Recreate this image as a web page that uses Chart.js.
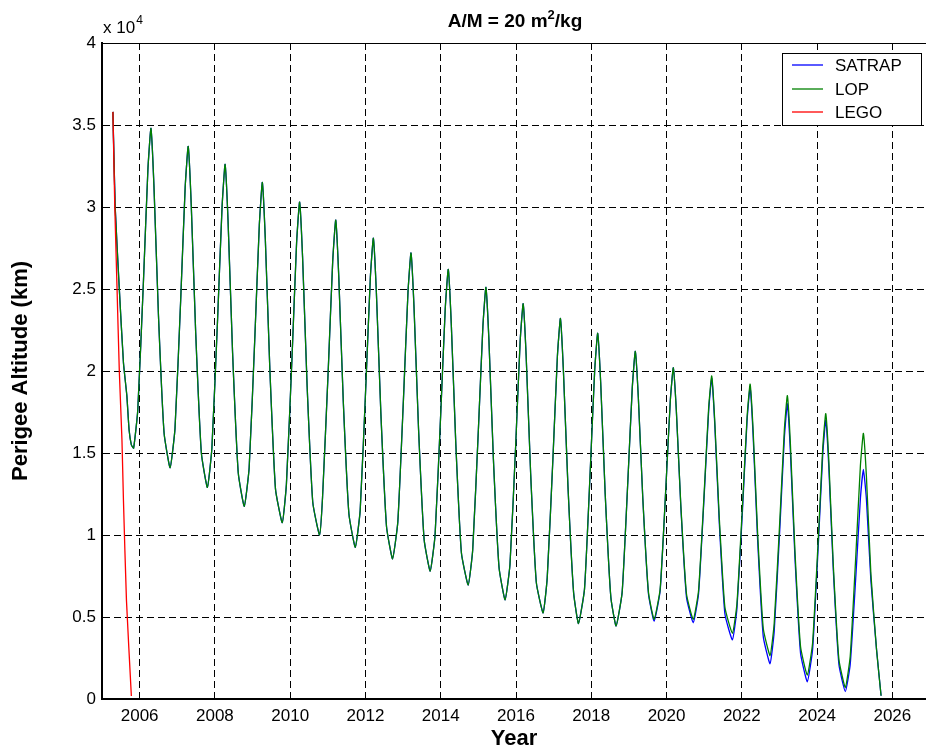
<!DOCTYPE html>
<html>
<head>
<meta charset="utf-8">
<script src="https://cdn.jsdelivr.net/npm/chart.js"></script>
<style>
  html, body { margin: 0; padding: 0; background: #fff; overflow: hidden; }
  canvas { display: block; }
</style>
</head>
<body>
<canvas id="c" width="930" height="751"></canvas>
<script>
// sample times (year) shared by SATRAP and LOP
const years = [
  2005.29, 2005.35, 2005.46, 2005.57, 2005.66, 2005.72, 2005.78, 2005.84,
  2005.95, 2006.10, 2006.22, 2006.30,
  2006.38, 2006.50, 2006.65, 2006.81, 2006.94, 2007.09, 2007.21, 2007.29,
  2007.37, 2007.49, 2007.64, 2007.80, 2007.92, 2008.07, 2008.19, 2008.27,
  2008.35, 2008.47, 2008.62, 2008.78, 2008.91, 2009.06, 2009.18, 2009.26,
  2009.34, 2009.46, 2009.61, 2009.79, 2009.90, 2010.05, 2010.17, 2010.25,
  2010.33, 2010.45, 2010.60, 2010.78, 2010.86, 2011.01, 2011.13, 2011.21,
  2011.29, 2011.41, 2011.56, 2011.73, 2011.86, 2012.01, 2012.13, 2012.21,
  2012.29, 2012.41, 2012.56, 2012.72, 2012.86, 2013.01, 2013.13, 2013.21,
  2013.29, 2013.41, 2013.56, 2013.72, 2013.85, 2014.00, 2014.12, 2014.20,
  2014.28, 2014.40, 2014.55, 2014.73, 2014.85, 2015.00, 2015.12, 2015.20,
  2015.28, 2015.40, 2015.55, 2015.71, 2015.84, 2015.99, 2016.11, 2016.19,
  2016.27, 2016.39, 2016.54, 2016.72, 2016.83, 2016.98, 2017.10, 2017.18,
  2017.26, 2017.38, 2017.53, 2017.66, 2017.82, 2017.97, 2018.09, 2018.17,
  2018.25, 2018.37, 2018.52, 2018.66, 2018.82, 2018.97, 2019.09, 2019.17,
  2019.25, 2019.37, 2019.52, 2019.67, 2019.83, 2019.98, 2020.10, 2020.18,
  2020.26, 2020.38, 2020.53, 2020.71, 2020.85, 2021.00, 2021.12, 2021.20,
  2021.28, 2021.40, 2021.55, 2021.75, 2021.87, 2022.02, 2022.14, 2022.22,
  2022.30, 2022.42, 2022.57, 2022.75, 2022.86, 2023.01, 2023.13, 2023.21,
  2023.29, 2023.41, 2023.56, 2023.74, 2023.88, 2024.03, 2024.15, 2024.23,
  2024.31, 2024.43, 2024.58, 2024.75, 2024.88, 2025.03, 2025.15, 2025.23,
  2025.31, 2025.43, 2025.58, 2025.70
];

// perigee altitude, km
const satrap = [
  35800, 30000, 25000, 20500, 18500, 16400, 15500, 15300,
  17600, 25400, 32300, 34800,
  31300, 23400, 16200, 14100, 16500, 24300, 31200, 33700,
  30200, 22300, 15000, 12900, 15300, 23100, 30000, 32600,
  29100, 21100, 13800, 11750, 14100, 22000, 28900, 31500,
  28000, 20100, 12800, 10750, 13100, 20900, 27800, 30300,
  26900, 19100, 12000, 10000, 12300, 20000, 26700, 29200,
  25800, 18200, 11300, 9250, 11500, 19100, 25700, 28100,
  24800, 17400, 10500, 8550, 10800, 18300, 24800, 27200,
  23900, 16500, 9700, 7800, 10000, 17400, 23800, 26200,
  22900, 15600, 8900, 6950, 9100, 16400, 22700, 25100,
  21900, 14600, 8000, 6050, 8200, 15400, 21800, 24100,
  20900, 13700, 7100, 5250, 7400, 14600, 20900, 23200,
  20000, 13000, 6500, 4600, 6700, 13800, 20000, 22300,
  19300, 12500, 6200, 4450, 6500, 13200, 19000, 21200,
  18400, 12200, 6400, 4750, 6600, 12800, 18200, 20200,
  17600, 11700, 6200, 4650, 6400, 12400, 17600, 19550,
  16800, 10800, 5200, 3600, 5500, 11600, 17000, 19000,
  16100, 9700, 3800, 2150, 4100, 10400, 15900, 18000,
  15100, 8700, 2800, 1050, 3000, 9300, 14900, 17000,
  14200, 7900, 2100, 450, 2100, 7500, 12200, 14000,
  12200, 7200, 3000, 200
];

const lop = [
  35800, 30000, 25000, 20500, 18500, 16400, 15500, 15300,
  17600, 25400, 32300, 34800,
  31300, 23400, 16200, 14100, 16500, 24300, 31200, 33700,
  30200, 22300, 15000, 12900, 15300, 23100, 30000, 32600,
  29100, 21100, 13800, 11750, 14100, 22000, 28900, 31500,
  28000, 20100, 12800, 10750, 13100, 20900, 27800, 30300,
  26900, 19100, 12000, 10000, 12300, 20000, 26700, 29200,
  25800, 18200, 11300, 9250, 11500, 19100, 25700, 28100,
  24800, 17400, 10500, 8550, 10800, 18300, 24800, 27200,
  23900, 16500, 9700, 7800, 10000, 17400, 23800, 26200,
  22900, 15600, 8900, 6950, 9100, 16400, 22700, 25100,
  21900, 14600, 8000, 6050, 8200, 15400, 21800, 24100,
  20900, 13700, 7100, 5250, 7400, 14600, 20900, 23200,
  20000, 13000, 6500, 4600, 6700, 13800, 20000, 22300,
  19300, 12500, 6200, 4450, 6500, 13200, 19000, 21200,
  18400, 12200, 6500, 4850, 6700, 12800, 18200, 20200,
  17600, 11800, 6400, 4850, 6600, 12600, 17800, 19700,
  17000, 11100, 5600, 4000, 5800, 11900, 17200, 19200,
  16400, 10100, 4300, 2650, 4600, 10900, 16400, 18500,
  15600, 9100, 3200, 1450, 3400, 9700, 15300, 17400,
  14600, 8200, 2400, 700, 2600, 8800, 14200, 16200,
  13600, 7600, 3000, 200
];

const legoYears = [2005.29, 2005.34, 2005.40, 2005.46, 2005.53, 2005.57, 2005.65, 2005.78];
const lego = [35800, 30000, 25000, 20000, 15800, 12100, 6000, 180];

const yearTicks = [2006, 2008, 2010, 2012, 2014, 2016, 2018, 2020, 2022, 2024, 2026];

const FONT = "'Liberation Sans', Arial, Helvetica, sans-serif";

const pts = (xs, ys) => xs.map((x, i) => ({ x, y: ys[i] }));

// MATLAB style extras: box top, exponent, title, axis labels, legend
const matlabFrame = {
  id: "matlabFrame",
  afterDraw(chart) {
    const ctx = chart.ctx;
    const a = chart.chartArea;
    ctx.save();

    ctx.strokeStyle = "#000";
    ctx.lineWidth = 1;
    ctx.beginPath();
    ctx.moveTo(a.left, a.top + 0.5);
    ctx.lineTo(a.right, a.top + 0.5);
    ctx.stroke();

    ctx.fillStyle = "#000";
    ctx.textBaseline = "alphabetic";
    ctx.textAlign = "left";
    ctx.font = "17px " + FONT;
    ctx.fillText("x 10", a.left + 1, 33);
    const w10 = ctx.measureText("x 10").width;
    ctx.font = "12px " + FONT;
    ctx.fillText("4", a.left + 2 + w10, 24);

    // title with superscript
    const cx = (a.left + a.right) / 2;
    ctx.font = "bold 19px " + FONT;
    const t1 = "A/M = 20 m", t3 = "/kg";
    const w1 = ctx.measureText(t1).width, w3 = ctx.measureText(t3).width;
    ctx.font = "bold 13px " + FONT;
    const w2 = ctx.measureText("2").width;
    let x0 = cx - 1 - (w1 + w2 + w3) / 2;
    ctx.font = "bold 19px " + FONT;
    ctx.fillText(t1, x0, 27);
    ctx.font = "bold 13px " + FONT;
    ctx.fillText("2", x0 + w1, 19);
    ctx.font = "bold 19px " + FONT;
    ctx.fillText(t3, x0 + w1 + w2, 27);

    ctx.font = "bold 22px " + FONT;
    ctx.textAlign = "center";
    ctx.textBaseline = "middle";
    ctx.fillText("Year", cx - 2, 739);
    ctx.save();
    ctx.translate(21, (a.top + a.bottom) / 2);
    ctx.rotate(-Math.PI / 2);
    ctx.fillText("Perigee Altitude (km)", 0, 0);
    ctx.restore();

    // legend
    const lx = 782.5, ly = 53.5, lw = 139, lh = 72;
    ctx.fillStyle = "#fff";
    ctx.fillRect(lx, ly, lw, lh);
    ctx.strokeStyle = "#000";
    ctx.lineWidth = 1;
    ctx.strokeRect(lx, ly, lw, lh);
    ctx.font = "17px " + FONT;
    ctx.textAlign = "left";
    ctx.textBaseline = "middle";
    const rows = [65, 89, 112];
    chart.data.datasets.forEach((ds, i) => {
      ctx.strokeStyle = ds.borderColor;
      ctx.lineWidth = 1.3;
      ctx.beginPath();
      ctx.moveTo(792, rows[i]);
      ctx.lineTo(823, rows[i]);
      ctx.stroke();
      ctx.fillStyle = "#000";
      ctx.fillText(ds.label, 835, rows[i] + 1);
    });

    ctx.restore();
  }
};

new Chart(document.getElementById("c"), {
  type: "line",
  data: {
    datasets: [
      { label: "SATRAP", data: pts(years, satrap), borderColor: "#0000ff", order: 3 },
      { label: "LOP", data: pts(years, lop), borderColor: "#008000", order: 2 },
      { label: "LEGO", data: pts(legoYears, lego), borderColor: "#ff0000", order: 1 }
    ]
  },
  options: {
    responsive: false,
    animation: false,
    layout: { padding: { top: 43, right: 0, left: 0, bottom: 0 } },
    elements: {
      line: { borderWidth: 1.3, tension: 0.15, fill: false },
      point: { radius: 0 }
    },
    plugins: {
      legend: { display: false },
      tooltip: { enabled: false },
      title: { display: false }
    },
    scales: {
      x: {
        type: "linear",
        min: 2005,
        max: 2027,
        afterFit: s => { s.height = 52; },
        afterBuildTicks: s => { s.ticks = yearTicks.map(v => ({ value: v })); },
        grid: { color: "#000", lineWidth: 1, drawTicks: false },
        border: { display: true, color: "#000", width: 2, dash: [7, 4] },
        ticks: {
          color: "#000",
          font: { family: FONT, size: 17 },
          padding: 7,
          maxRotation: 0,
          callback: v => String(v)
        }
      },
      y: {
        min: 0,
        max: 40000,
        afterFit: s => { s.width = 102; },
        grid: { color: "#000", lineWidth: 1, drawTicks: false },
        border: { display: true, color: "#000", width: 2, dash: [7, 4] },
        ticks: {
          stepSize: 5000,
          color: "#000",
          font: { family: FONT, size: 17 },
          padding: 6,
          callback: v => String(v / 10000)
        }
      }
    }
  },
  plugins: [matlabFrame]
});
</script>
</body>
</html>
